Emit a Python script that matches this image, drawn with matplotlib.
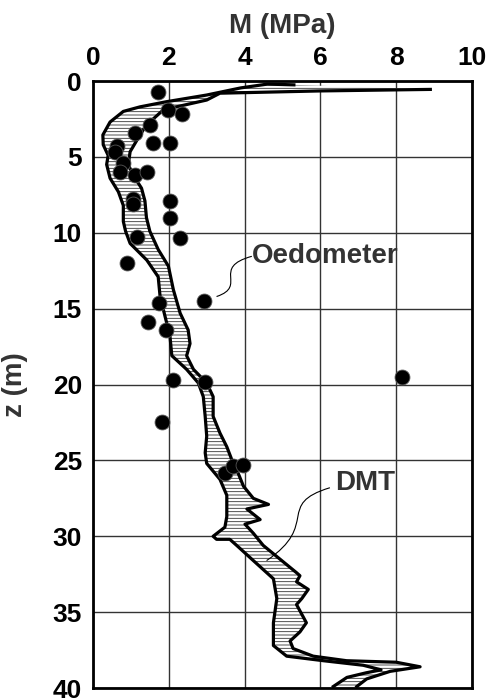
import matplotlib
matplotlib.use("Agg")
import matplotlib.pyplot as plt
import numpy as np
from matplotlib.path import Path
from matplotlib.patches import PathPatch

plt.rcParams['font.family'] = ['Liberation Sans', 'DejaVu Sans']
plt.rcParams['font.weight'] = 'bold'
plt.rcParams['hatch.linewidth'] = 0.6

# oedometer tests (M in MPa, depth z in m)
oed_m = [1.72, 1.99, 2.34, 1.50, 1.11, 1.59, 2.03, 0.62, 0.58, 0.80, 0.71, 1.11, 1.42,
         1.06, 1.05, 2.03, 2.03, 1.15, 2.30, 0.90, 2.93, 1.74, 1.45, 1.93, 2.11, 2.96,
         8.15, 1.82, 3.48, 3.69, 3.96]
oed_z = [0.70, 1.90, 2.20, 2.90, 3.40, 4.10, 4.06, 4.25, 4.70, 5.40, 6.00, 6.20, 6.00,
         7.80, 8.10, 7.90, 9.00, 10.30, 10.35, 12.0, 14.5, 14.6, 15.9, 16.4, 19.7, 19.8,
         19.5, 22.5, 25.8, 25.4, 25.3]

# DMT band - lower boundary
dmt_lo_m = [5.3, 4.6, 3.9, 3.0, 1.94, 1.24, 0.80, 0.45, 0.26, 0.27, 0.40, 0.36, 0.45,
            0.67, 0.80, 0.80, 0.86, 0.98, 1.42, 1.72, 1.77, 1.90, 2.03, 2.08, 2.47, 2.78,
            2.91, 2.96, 3.00, 2.96, 3.00, 3.35, 3.53, 3.53, 3.48, 3.17, 3.26, 3.61, 3.79,
            4.23, 4.76, 4.85, 4.76, 4.76, 5.11, 6.08, 7.13, 7.60, 7.20, 6.70, 6.34]
dmt_lo_z = [0.25, 0.20, 0.45, 0.92, 1.36, 1.70, 2.00, 2.70, 3.55, 4.20, 4.90, 5.50, 6.40,
            7.30, 8.20, 9.25, 9.90, 10.7, 11.8, 12.9, 14.2, 15.5, 16.8, 18.1, 19.0, 19.9,
            20.8, 22.1, 23.4, 24.5, 25.2, 26.25, 27.3, 28.7, 29.4, 30.0, 30.2, 30.2, 30.6,
            31.6, 32.8, 34.1, 35.7, 37.2, 37.9, 38.2, 38.5, 38.8, 39.0, 39.3, 39.9]

# DMT band - upper boundary
dmt_hi_m = [8.9, 6.0, 3.35, 3.0, 2.2, 1.81, 1.41, 1.24, 0.98, 0.93, 1.06, 1.28, 1.37,
            1.41, 1.50, 1.72, 1.99, 2.12, 2.30, 2.51, 2.56, 2.47, 2.65, 3.00, 3.17, 3.17,
            3.35, 3.53, 3.70, 3.79, 3.97, 4.23, 4.63, 4.06, 4.41, 4.01, 4.23, 4.49, 4.93,
            5.37, 5.46, 5.37, 5.68, 5.51, 5.37, 5.63, 5.46, 5.20, 5.28, 5.81, 6.69, 8.00,
            8.63, 7.84, 7.22, 6.96]
dmt_hi_z = [0.55, 0.65, 0.80, 1.25, 1.70, 2.00, 2.90, 3.55, 4.65, 5.50, 6.20, 7.06, 7.90,
            9.00, 9.90, 11.1, 12.2, 13.75, 15.3, 16.4, 17.3, 18.1, 19.0, 19.9, 20.8, 22.1,
            23.2, 24.1, 25.2, 25.6, 26.7, 27.5, 27.9, 28.2, 28.9, 29.2, 29.8, 30.6, 31.5,
            32.4, 32.6, 33.0, 33.5, 34.1, 34.5, 35.7, 36.3, 36.9, 37.4, 37.9, 38.2, 38.3,
            38.6, 38.9, 39.4, 39.9]

x_ticks = [0, 2, 4, 6, 8, 10]
z_ticks = [0, 5, 10, 15, 20, 25, 30, 35, 40]

fig = plt.figure(figsize=(4.9, 7), dpi=100)
ax = fig.add_axes([0.1898, 0.0171, 0.7735, 0.8671])

# hatched band between the two DMT curves
band_m = np.concatenate([dmt_lo_m, dmt_hi_m[::-1]])
band_z = np.concatenate([dmt_lo_z, dmt_hi_z[::-1]])
ax.fill(band_m, band_z, facecolor='white', edgecolor='#333333', hatch='-----',
        linewidth=0, zorder=2)
ax.plot(dmt_lo_m, dmt_lo_z, color='black', lw=2.3, solid_joinstyle='round', zorder=3)
ax.plot(dmt_hi_m, dmt_hi_z, color='black', lw=2.3, solid_joinstyle='round', zorder=3)

ax.scatter(oed_m, oed_z, s=115, color='black', edgecolor='#555555', linewidth=0.6, zorder=4)

# leader lines
def leader(p0, c1, c2, p3):
    path = Path([p0, c1, c2, p3], [Path.MOVETO, Path.CURVE4, Path.CURVE4, Path.CURVE4])
    ax.add_patch(PathPatch(path, facecolor='none', edgecolor='black', lw=0.8, zorder=5))

leader((4.19, 11.55), (3.1, 12.3), (4.1, 13.5), (3.26, 14.2))
ax.text(4.19, 11.5, 'Oedometer', fontsize=20, fontweight='bold', color='#333333',
        ha='left', va='center', zorder=6)
leader((6.25, 26.8), (4.8, 27.9), (6.0, 29.2), (4.58, 31.6))
ax.text(6.4, 26.5, 'DMT', fontsize=20, fontweight='bold', color='#333333',
        ha='left', va='center', zorder=6)

ax.set_xlim(0, 10)
ax.set_ylim(40, 0)
ax.set_xticks(x_ticks)
ax.set_yticks(z_ticks)
ax.xaxis.tick_top()
ax.xaxis.set_label_position('top')
ax.tick_params(length=0, labelsize=19, pad=8)
for lab in ax.get_xticklabels() + ax.get_yticklabels():
    lab.set_fontweight('bold')
ax.grid(True, color='#333333', lw=1)
ax.set_axisbelow(True)
for sp in ax.spines.values():
    sp.set_linewidth(2)

ax.set_xlabel('M (MPa)', fontsize=20, fontweight='bold', color='#333333', labelpad=9)
ax.set_ylabel('z (m)', fontsize=20, fontweight='bold', color='#333333', labelpad=18)

fig.savefig('out.png', dpi=100)
